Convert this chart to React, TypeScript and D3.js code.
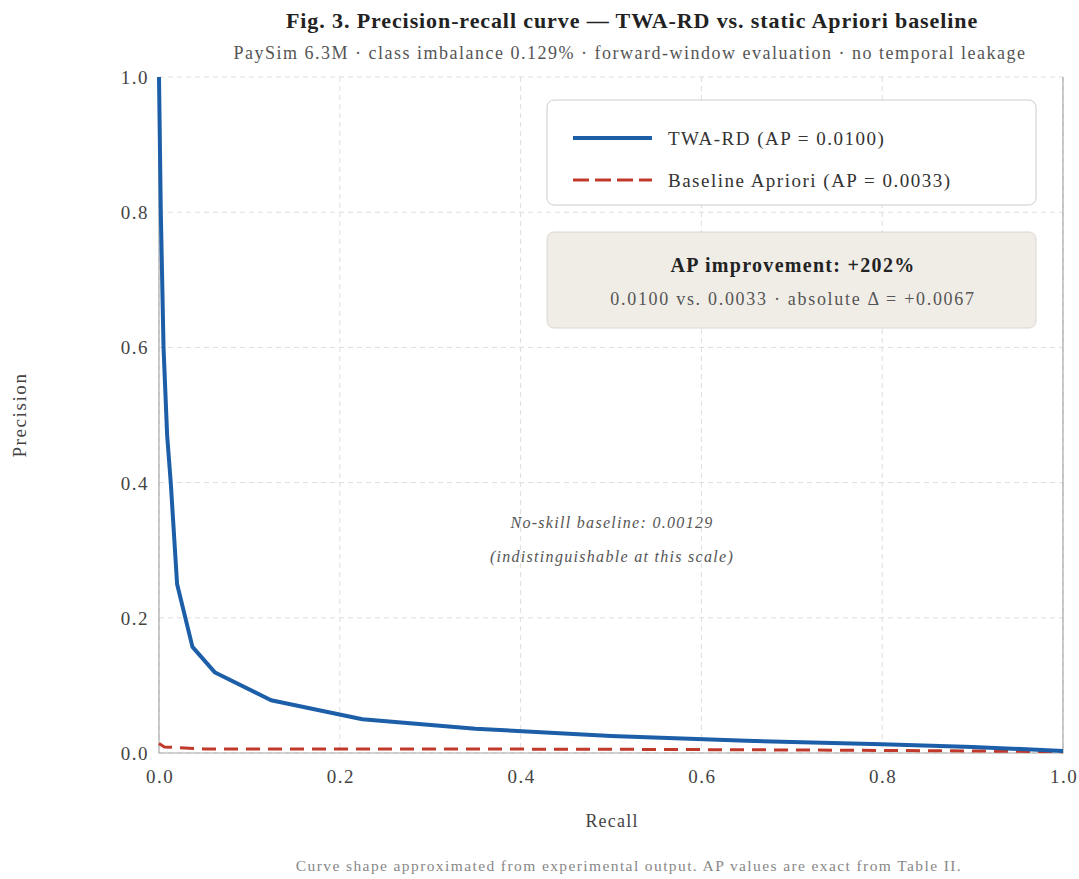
import React from 'react';
import * as d3 from 'd3';

// recall / precision
const twaRecall = [0, 0.002, 0.005, 0.009, 0.013, 0.02, 0.037, 0.062, 0.124, 0.225, 0.35, 0.5, 0.65, 0.8, 0.9, 1.0];
const twaPrecision = [1.0, 0.8, 0.6, 0.47, 0.4, 0.25, 0.157, 0.119, 0.078, 0.05, 0.036, 0.025, 0.018, 0.013, 0.009, 0.003];
const baseRecall = [0, 0.006, 0.02, 0.05, 0.3, 0.5, 0.7, 0.9, 1.0];
const basePrecision = [0.014, 0.009, 0.008, 0.006, 0.006, 0.0055, 0.0045, 0.003, 0.002];
const ticks = [0, 0.2, 0.4, 0.6, 0.8, 1.0];

const W = 1079, H = 879;
const margin = { top: 77, right: 16, bottom: 126, left: 159 };
const serif = '"Liberation Serif", "DejaVu Serif", serif';

export default class App extends React.Component {
  render() {
    const x = d3.scaleLinear().domain([0, 1]).range([margin.left, W - margin.right]);
    const y = d3.scaleLinear().domain([0, 1]).range([H - margin.bottom, margin.top]);
    const line = d3.line<[number, number]>().x(d => x(d[0])).y(d => y(d[1]));
    const twa = twaRecall.map((r, i) => [r, twaPrecision[i]] as [number, number]);
    const base = baseRecall.map((r, i) => [r, basePrecision[i]] as [number, number]);
    const x0 = x(0), x1 = x(1), y0 = y(0), y1 = y(1);

    return (
      <svg width={W} height={H} style={{ position: 'absolute', left: 0, top: 0, background: '#fff' }} fontFamily={serif}>
        <text x={632} y={28} textAnchor="middle" fontSize={22} fontWeight="bold" fill="#222" letterSpacing={0.9}>
          Fig. 3. Precision-recall curve — TWA-RD vs. static Apriori baseline
        </text>
        <text x={630} y={59} textAnchor="middle" fontSize={18} fill="#555" letterSpacing={1.5}>
          PaySim 6.3M · class imbalance 0.129% · forward-window evaluation · no temporal leakage
        </text>

        {/* grid */}
        {ticks.map(t => (
          <g key={t}>
            <line x1={x(t)} x2={x(t)} y1={y1} y2={y0} stroke="#ddd" strokeDasharray="5,4" />
            <line x1={x0} x2={x1} y1={y(t)} y2={y(t)} stroke="#ddd" strokeDasharray="5,4" />
          </g>
        ))}
        {/* frame */}
        <path d={`M${x0},${y1}V${y0}H${x1}V${y1}`} fill="none" stroke="#aaa" strokeWidth={1.2} />

        {ticks.map(t => (
          <g key={'l' + t} fontSize={19} fill="#444" letterSpacing={1.5}>
            <text x={x(t) + 1} y={783} textAnchor="middle">{d3.format('.1f')(t)}</text>
            <text x={149} y={y(t) + 7} textAnchor="end">{d3.format('.1f')(t)}</text>
          </g>
        ))}

        <text x={612} y={827} textAnchor="middle" fontSize={18} fill="#444" letterSpacing={1.2}>Recall</text>
        <text transform="translate(26,415) rotate(-90)" textAnchor="middle" fontSize={19} fill="#444" letterSpacing={1.6}>Precision</text>

        <text x={612} y={528} textAnchor="middle" fontSize={16} fontStyle="italic" fill="#555" letterSpacing={1.3}>No-skill baseline: 0.00129</text>
        <text x={612} y={562} textAnchor="middle" fontSize={16} fontStyle="italic" fill="#555" letterSpacing={1.3}>(indistinguishable at this scale)</text>

        <path d={line(base) || ''} fill="none" stroke="#c0392b" strokeWidth={3} strokeDasharray="14,8" />
        <path d={line(twa) || ''} fill="none" stroke="#1c5fa8" strokeWidth={4} strokeLinejoin="round" />

        {/* legend */}
        <rect x={547} y={100} width={489} height={105} rx={7} fill="#fff" stroke="#ccc" />
        <line x1={573} x2={652} y1={138} y2={138} stroke="#1c5fa8" strokeWidth={4} />
        <text x={668} y={145} fontSize={19} fill="#333" letterSpacing={1.5}>TWA-RD (AP = 0.0100)</text>
        <line x1={573} x2={652} y1={180} y2={180} stroke="#c0392b" strokeWidth={3} strokeDasharray="16,6" />
        <text x={668} y={187} fontSize={19} fill="#333" letterSpacing={1.5}>Baseline Apriori (AP = 0.0033)</text>

        {/* annotation */}
        <rect x={547} y={232} width={489} height={96} rx={7} fill="#f0ede7" stroke="#dcd8d0" />
        <text x={793} y={272} textAnchor="middle" fontSize={20} fontWeight="bold" fill="#222" letterSpacing={1.3}>AP improvement: +202%</text>
        <text x={793} y={305} textAnchor="middle" fontSize={18} fill="#555" letterSpacing={1.7}>0.0100 vs. 0.0033 · absolute Δ = +0.0067</text>

        <text x={629} y={871} textAnchor="middle" fontSize={15.5} fill="#888" letterSpacing={1.4}>
          Curve shape approximated from experimental output. AP values are exact from Table II.
        </text>
      </svg>
    );
  }
}
